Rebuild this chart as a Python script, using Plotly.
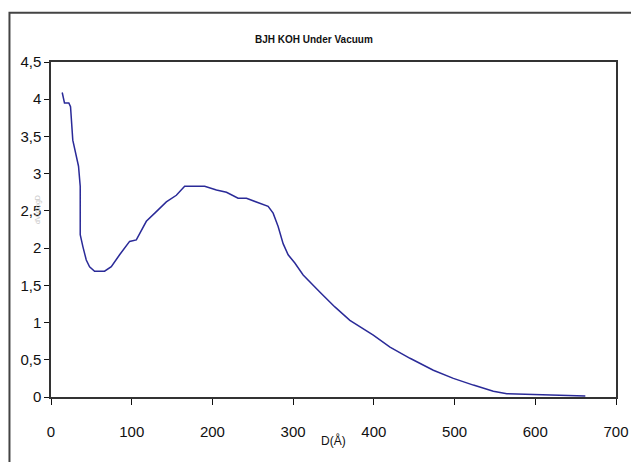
import plotly.graph_objects as go

# Pore diameter D (Å) and distribution values
diameter = [13.9, 16.7, 22.1, 24.2, 27.0, 31.3, 34.1, 36.2, 36.2, 39.5, 43.7, 47.8,
            54.0, 66.4, 74.7, 85.0, 97.4, 105.7, 109.8, 118.1, 130.5, 142.9, 155.3,
            165.6, 190.4, 205.0, 217.4, 231.8, 242.2, 254.6, 269.0, 275.2, 281.4,
            287.6, 293.8, 302.1, 312.4, 333.0, 351.7, 370.3, 399.3, 420.0, 444.8,
            473.7, 498.5, 523.3, 548.0, 564.8, 593.7, 662.0]
values = [4.09, 3.95, 3.95, 3.90, 3.45, 3.23, 3.10, 2.83, 2.18, 2.02, 1.84, 1.75,
          1.69, 1.69, 1.75, 1.91, 2.09, 2.11, 2.20, 2.36, 2.49, 2.62, 2.71,
          2.83, 2.83, 2.78, 2.75, 2.67, 2.67, 2.62, 2.56, 2.47, 2.29,
          2.06, 1.91, 1.80, 1.64, 1.41, 1.21, 1.03, 0.83, 0.67, 0.52,
          0.36, 0.25, 0.16, 0.077, 0.045, 0.036, 0.013]

x_ticks = [0, 100, 200, 300, 400, 500, 600, 700]
y_ticks = [0, 0.5, 1, 1.5, 2, 2.5, 3, 3.5, 4, 4.5]
y_tick_labels = ["0", "0,5", "1", "1,5", "2", "2,5", "3", "3,5", "4", "4,5"]

title_text = "BJH KOH Under Vacuum"
x_title = "D(Å)"
y_title = "dV/dlogD"

FONT = "Liberation Sans, Arial, sans-serif"

fig = go.Figure()
fig.add_trace(go.Scatter(x=diameter, y=values, mode="lines",
                         line=dict(color="#2a2a98", width=1.5),
                         showlegend=False, hoverinfo="skip"))

axis_common = dict(showgrid=False, zeroline=False, showline=True,
                   linecolor="#333333", linewidth=1.5, mirror=True,
                   ticks="outside", tickcolor="#111111", tickwidth=1,
                   automargin=False,
                   tickfont=dict(family=FONT, size=15, color="#111111"))

fig.update_xaxes(range=[0, 700], tickvals=x_ticks, ticklen=6,
                 ticklabelstandoff=14, **axis_common)
fig.update_yaxes(range=[0, 4.5], tickvals=y_ticks, ticktext=y_tick_labels,
                 ticklen=5, ticklabelstandoff=0, **axis_common)

fig.update_layout(
    width=631, height=462,
    margin=dict(l=51, r=15, t=62, b=65, autoexpand=False),
    paper_bgcolor="white", plot_bgcolor="white",
    font=dict(family=FONT, color="#111111"),
    shapes=[dict(type="rect", xref="paper", yref="paper",
                 x0=-0.0735, x1=1.05, y0=-0.25, y1=1.147,
                 line=dict(color="#444444", width=2), layer="below")],
    annotations=[
        dict(text="<b>" + title_text + "</b>", xref="paper", yref="paper", x=0.465, y=1.067,
             showarrow=False, xanchor="center", yanchor="middle",
             font=dict(family=FONT, size=10, color="#111111")),
        dict(text=x_title, xref="paper", yref="paper", x=0.5, y=-0.13,
             showarrow=False, xanchor="center", yanchor="middle",
             font=dict(family=FONT, size=12, color="#111111")),
        dict(text=y_title, xref="paper", yref="paper", x=-0.022, y=0.56,
             showarrow=False, textangle=-90, xanchor="center", yanchor="middle",
             font=dict(family=FONT, size=7, color="#c8c8c8")),
    ],
)

fig.write_html("out.html", config={"displayModeBar": False},
               post_script="document.body.style.margin='0';document.body.style.overflow='hidden';")
